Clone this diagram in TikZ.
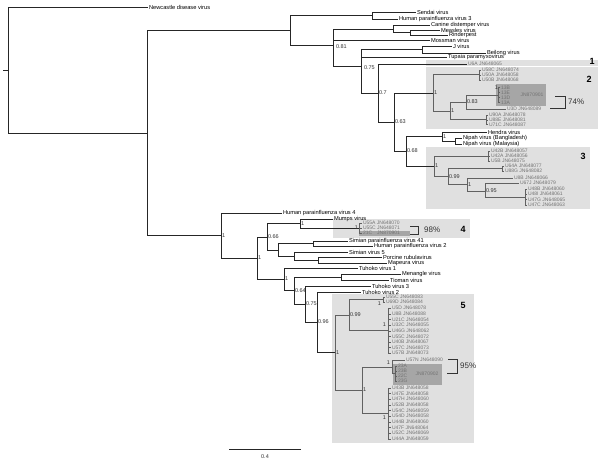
\documentclass[tikz,border=0pt]{standalone}
\usepackage{fontspec}
\setmainfont{Liberation Sans}
\begin{document}
\begin{tikzpicture}[x=1pt,y=-1pt,
  br/.style={draw=black!85,line width=0.8pt},
  ib/.style={draw=black!62,line width=0.7pt},
  leaf/.style={anchor=west,inner sep=0.8pt,font=\fontsize{5.7}{6}\selectfont},
  gleaf/.style={anchor=west,inner sep=0.8pt,text=black!55,font=\fontsize{5}{5.5}\selectfont},
  bs/.style={anchor=west,inner sep=0.8pt,text=black!80,font=\fontsize{5.5}{6}\selectfont},
  bsl/.style={anchor=east,inner sep=0.8pt,text=black!80,font=\fontsize{5.5}{6}\selectfont},
  boxfill/.style={fill=black!12,draw=none},
  darkfill/.style={fill=black!35,draw=none},
  boxnum/.style={font=\fontsize{9}{9}\selectfont\bfseries,inner sep=0pt},
  pct/.style={font=\fontsize{8}{8}\selectfont,inner sep=0pt,text=black!80},
  brk/.style={draw=black!80,line width=0.8pt}
]
\useasboundingbox (0,0) rectangle (600,460);
% ---- background boxes
\path[boxfill] (426,60) rectangle (598,66);
\path[boxfill] (426,67) rectangle (598,129);
\path[boxfill] (426,147) rectangle (590,209);
\path[boxfill] (333,219) rectangle (470,238);
\path[boxfill] (332,294) rectangle (474,443);
\path[darkfill] (496,84) rectangle (546,106);
\path[darkfill] (359,231) rectangle (410,236);
\path[darkfill] (393,364) rectangle (442,385);
\node[boxnum] (b1) at (592,61.5) {1};
\node[boxnum] (b2) at (589,79) {2};
\node[boxnum] (b3) at (583,156) {3};
\node[boxnum] (b4) at (463,229) {4};
\node[boxnum] (b5) at (463,305) {5};

% ---- root
\coordinate (rt) at (3,70);
\coordinate (r) at (8,70);
\draw[br] (rt) -- (r);
\node[leaf] (ndv) at (148,7) {Newcastle disease virus};
\coordinate (n1) at (147,133);
\draw[br] (r) |- (ndv.west);
\draw[br] (r) |- (n1);

% ---- upper clade
\coordinate (nA) at (290,30);
\draw[br] (n1) |- (nA);
\coordinate (nR) at (372,15);
\draw[br] (nA) |- (nR);
\node[leaf] (sen) at (416,12) {Sendai virus};
\node[leaf] (hp3) at (398,19) {Human parainfluenza virus 3};
\draw[br] (nR) |- (sen.west);
\draw[br] (nR) |- (hp3.west);

\coordinate (nC) at (333,45);
\draw[br] (nA) |- (nC);
\node[bs] (l081) at (335,46.5) {0.81};
\coordinate (nMo) at (393,29);
\draw[br] (nC) |- (nMo);
\node[leaf] (cdv) at (430,25) {Canine distemper virus};
\coordinate (nMR) at (410,32.5);
\node[leaf] (mea) at (440,30) {Measles virus};
\node[leaf] (rin) at (448,35) {Rinderpest};
\draw[br] (nMo) |- (cdv.west);
\draw[br] (nMo) |- (nMR);
\draw[br] (nMR) |- (mea.west);
\draw[br] (nMR) |- (rin.west);
\node[leaf] (mos) at (430,40.5) {Mossman virus};
\draw[br] (nC) |- (mos.west);

\coordinate (nD) at (361,66.5);
\draw[br] (nC) |- (nD);
\node[bs] (l075a) at (363,68) {0.75};
\coordinate (nJB) at (422,49.5);
\draw[br] (nD) |- (nJB);
\node[leaf] (jv) at (452,46) {J virus};
\node[leaf] (bei) at (486,53) {Beilong virus};
\draw[br] (nJB) |- (jv.west);
\draw[br] (nJB) |- (bei.west);
\node[leaf] (tup) at (447,57.5) {Tupaia paramyxovirus};
\draw[br] (nD) |- (tup.west);

\coordinate (nE) at (378,93);
\draw[br] (nD) |- (nE);
\node[bs] (l07) at (nE) {0.7};
\node[gleaf] (u6a) at (467,64) {U6A JN648065};
\draw[br] (nE) |- (u6a.west);
\coordinate (nF) at (394,122);
\draw[br] (nE) |- (nF);
\node[bs] (l063) at (nF) {0.63};

% box 2
\coordinate (nG) at (433,93);
\draw[br] (nF) |- (nG);
\node[bs] (lG) at (nG) {1};
\coordinate (nU58) at (479,74.5);
\draw[ib] (nG) |- (nU58);
\node[gleaf] (u58c) at (481,70) {U58C JN648074};
\node[gleaf] (u50a) at (481,75) {U50A JN648058};
\node[gleaf] (u50b) at (481,80) {U50B JN648068};
\foreach \n in {u58c,u50a,u50b} \draw[ib] (nU58) |- (\n.west);
\coordinate (nH) at (450,111);
\draw[ib] (nG) |- (nH);
\node[bs] (lH) at (nH) {1};
\coordinate (nI) at (466,102);
\draw[ib] (nH) |- (nI);
\node[bs] (lI) at (nI) {0.83};
\coordinate (n13) at (498,95);
\draw[ib] (nI) |- (n13);
\node[bsl] (l13) at (499,88) {1};
\node[gleaf] (t13b) at (500,87.5) {13B};
\node[gleaf] (t13e) at (500,92.5) {13E};
\node[gleaf] (t13d) at (500,97.5) {13D};
\node[gleaf] (t13a) at (500,102.5) {13A};
\foreach \n in {t13b,t13e,t13d,t13a} \draw[ib] (n13) |- (\n.west);
\node[gleaf,anchor=center] (jn1) at (532,95) {JN870901};
\node[gleaf] (u3d) at (506,109) {U3D JN648089};
\draw[ib] (nI) |- (u3d.west);
\coordinate (nU90) at (486,119.5);
\draw[ib] (nH) |- (nU90);
\node[gleaf] (u90a) at (488,115) {U90A JN648078};
\node[gleaf] (u88e) at (488,120) {U88E JN648081};
\node[gleaf] (u71c) at (488,124.5) {U71C JN648087};
\foreach \n in {u90a,u88e,u71c} \draw[ib] (nU90) |- (\n.west);
\coordinate (k1a) at (555,96);
\coordinate (k1b) at (565,96);
\coordinate (k1c) at (565,108);
\coordinate (k1d) at (550,108);
\draw[brk] (k1a) -- (k1b) -- (k1c) -- (k1d);
\node[pct,anchor=west] (p74) at (568,102) {74\%};

% henipa + box 3
\coordinate (nJ) at (406,151);
\draw[br] (nF) |- (nJ);
\node[bs] (l068) at (nJ) {0.68};
\coordinate (nHe) at (442,136.5);
\draw[br] (nJ) |- (nHe);
\node[bs] (lHe) at (nHe) {1};
\node[leaf] (hen) at (487,132) {Hendra virus};
\coordinate (nNi) at (455,141);
\node[leaf] (nib) at (462,138) {Nipah virus (Bangladesh)};
\node[leaf] (nim) at (462,144) {Nipah virus (Malaysia)};
\draw[br] (nHe) |- (hen.west);
\draw[br] (nHe) |- (nNi);
\draw[br] (nNi) |- (nib.west);
\draw[br] (nNi) |- (nim.west);

\coordinate (nK) at (434,166);
\draw[br] (nJ) |- (nK);
\node[bs] (lK) at (nK) {1};
\coordinate (nU42) at (488,156);
\draw[ib] (nK) |- (nU42);
\node[gleaf] (u42b) at (490,151) {U42B JN648057};
\node[gleaf] (u42a) at (490,156) {U42A JN648056};
\node[gleaf] (u5b) at (490,161) {U5B JN648075};
\foreach \n in {u42b,u42a,u5b} \draw[ib] (nU42) |- (\n.west);
\coordinate (nL) at (448,176.5);
\draw[ib] (nK) |- (nL);
\node[bs] (lL) at (nL) {0.99};
\coordinate (nU64) at (502,168.5);
\draw[ib] (nL) |- (nU64);
\node[gleaf] (u64a) at (504,166) {U64A JN648077};
\node[gleaf] (u88g) at (504,171) {U88G JN648082};
\foreach \n in {u64a,u88g} \draw[ib] (nU64) |- (\n.west);
\coordinate (nM) at (467,184.5);
\draw[ib] (nL) |- (nM);
\node[bs] (lM) at (nM) {1};
\node[gleaf] (u8b) at (513,178) {U8B JN648066};
\draw[ib] (nM) |- (u8b.west);
\coordinate (nN) at (485,191);
\draw[ib] (nM) |- (nN);
\node[bs] (lN) at (nN) {0.95};
\node[gleaf] (u67j) at (519,183) {U67J JN648079};
\draw[ib] (nN) |- (u67j.west);
\coordinate (nO) at (525,197);
\draw[ib] (nN) |- (nO);
\node[gleaf] (u48b) at (527,189) {U48B JN648060};
\node[gleaf] (u48i) at (527,194) {U48I JN648061};
\node[gleaf] (u47g) at (527,199.5) {U47G JN648065};
\node[gleaf] (u47c) at (527,205) {U47C JN648063};
\foreach \n in {u48b,u48i,u47g,u47c} \draw[ib] (nO) |- (\n.west);

% ---- lower clade
\coordinate (nP) at (221,235.5);
\draw[br] (n1) |- (nP);
\node[bs] (lP) at (nP) {1};
\node[leaf] (hp4) at (282,213) {Human parainfluenza virus 4};
\draw[br] (nP) |- (hp4.west);
\coordinate (nQ) at (257,258);
\draw[br] (nP) |- (nQ);
\node[bs] (lQ) at (nQ) {1};
\coordinate (n066) at (267,237);
\draw[br] (nQ) |- (n066);
\node[bs] (l066) at (n066) {0.66};
\coordinate (nMu) at (300,223.5);
\draw[br] (n066) |- (nMu);
\node[bs] (lMu) at (nMu) {1};
\node[leaf] (mum) at (333,219) {Mumps virus};
\draw[br] (nMu) |- (mum.west);
\coordinate (nB4) at (359,228);
\draw[br] (nMu) |- (nB4);
\node[bsl] (lB4) at (nB4) {1};
\node[gleaf] (u55a) at (362,223) {U55A JN648070};
\node[gleaf] (u55c) at (362,228) {U55C JN648071};
\node[gleaf] (c21) at (362,233) {21C\quad JN870901};
\foreach \n in {u55a,u55c,c21} \draw[ib] (nB4) |- (\n.west);
\coordinate (k2a) at (410,226);
\coordinate (k2b) at (418,226);
\coordinate (k2c) at (418,234);
\coordinate (k2d) at (410,234);
\draw[brk] (k2a) -- (k2b) -- (k2c) -- (k2d);
\node[pct,anchor=west] (p98) at (424,230) {98\%};

\coordinate (nSV) at (278,250);
\draw[br] (n066) |- (nSV);
\coordinate (nSH) at (313,243.5);
\draw[br] (nSV) |- (nSH);
\node[leaf] (sv41) at (348,241) {Simian parainfluenza virus 41};
\node[leaf] (hp2) at (373,246) {Human parainfluenza virus 2};
\draw[br] (nSH) |- (sv41.west);
\draw[br] (nSH) |- (hp2.west);
\coordinate (nSP) at (294,256);
\draw[br] (nSV) |- (nSP);
\node[leaf] (sv5) at (348,252) {Simian virus 5};
\draw[br] (nSP) |- (sv5.west);
\coordinate (nPM) at (318,260);
\draw[br] (nSP) |- (nPM);
\node[leaf] (porv) at (382,257) {Porcine rubulavirus};
\node[leaf] (map) at (387,263) {Mapeura virus};
\draw[br] (nPM) |- (porv.west);
\draw[br] (nPM) |- (map.west);

\coordinate (nT) at (284,279);
\draw[br] (nQ) |- (nT);
\node[bs] (lT) at (nT) {1};
\node[leaf] (tu1) at (358,268) {Tuhoko virus 1};
\draw[br] (nT) |- (tu1.west);
\coordinate (n064) at (294,290.5);
\draw[br] (nT) |- (n064);
\node[bs] (l064) at (n064) {0.64};
\coordinate (nMT) at (341,277);
\draw[br] (n064) |- (nMT);
\node[leaf] (men) at (401,274) {Menangle virus};
\node[leaf] (tio) at (389,280) {Tioman virus};
\draw[br] (nMT) |- (men.west);
\draw[br] (nMT) |- (tio.west);
\coordinate (n075) at (305,304);
\draw[br] (n064) |- (n075);
\node[bs] (l075b) at (n075) {0.75};
\node[leaf] (tu3) at (371,286) {Tuhoko virus 3};
\draw[br] (n075) |- (tu3.west);
\coordinate (n096) at (317,322);
\draw[br] (n075) |- (n096);
\node[bs] (l096) at (n096) {0.96};
\node[leaf] (tu2) at (361,292) {Tuhoko virus 2};
\draw[br] (n096) |- (tu2.west);

% box 5
\coordinate (n5) at (335,352.5);
\draw[br] (n096) |- (n5);
\node[bs] (l5) at (n5) {1};
\coordinate (n099) at (349,315);
\draw[ib] (n5) |- (n099);
\node[bs] (l099) at (n099) {0.99};
\coordinate (nU55) at (383,299.5);
\draw[ib] (n099) |- (nU55);
\node[bsl] (lU55) at (382,304) {1};
\node[gleaf] (u55cb) at (385,297) {U55C JN648083};
\node[gleaf] (u69d) at (385,302) {U69D JN648084};
\foreach \n in {u55cb,u69d} \draw[ib] (nU55) |- (\n.west);
\coordinate (nC1) at (388,330.5);
\draw[ib] (n099) |- (nC1);
\node[bsl] (lC1) at (387,325) {1};
\foreach \t/\yy [count=\i] in {U5D JN648078/308,U8B JN648088/314,U21C JN648054/319.5,U32C JN648055/325,U46G JN648062/331,U55C JN648072/336.5,U40B JN648067/342,U57C JN648073/347.5,U57B JN648073/353} {
  \node[gleaf] (ca\i) at (391,\yy) {\t};
  \draw[ib] (nC1) |- (ca\i.west);
}
\coordinate (nV) at (362,390);
\draw[ib] (n5) |- (nV);
\node[bs] (lV) at (nV) {1};
\coordinate (nW) at (392,367);
\draw[ib] (nV) |- (nW);
\node[bsl] (lW) at (391,363) {1};
\node[gleaf] (u57n) at (405,360) {U57N JN648090};
\draw[ib] (nW) |- (u57n.west);
\coordinate (nW2) at (395,373.5);
\draw[ib] (nW) |- (nW2);
\foreach \t/\yy [count=\i] in {23A/366,23B/371,22C/376,23G/381} {
  \node[gleaf] (cw\i) at (397,\yy) {\t};
  \draw[ib] (nW2) |- (cw\i.west);
}
\node[gleaf,anchor=center] (jn2) at (427,374) {JN870902};
\coordinate (k3a) at (448,359);
\coordinate (k3b) at (457,359);
\coordinate (k3c) at (457,373);
\coordinate (k3d) at (447,373);
\draw[brk] (k3a) -- (k3b) -- (k3c) -- (k3d);
\node[pct,anchor=west] (p95) at (460,366) {95\%};
\coordinate (nC2) at (388,413.5);
\draw[ib] (nV) |- (nC2);
\node[bsl] (lC2) at (387,418) {1};
\foreach \t/\yy [count=\i] in {U43B JN648058/388,U47E JN648058/393.5,U47H JN648060/399,U52B JN648058/405,U54C JN648059/410.5,U54D JN648058/416,U44B JN648060/422,U47F JN648064/427.5,U52C JN648069/433,U44A JN648059/439} {
  \node[gleaf] (cb\i) at (391,\yy) {\t};
  \draw[ib] (nC2) |- (cb\i.west);
}

% ---- scale bar
\coordinate (sb1) at (229,449);
\coordinate (sb2) at (301,449);
\draw[br] (sb1) -- (sb2);
\node[bs,anchor=center] (sbl) at (265,457) {0.4};
\end{tikzpicture}
\end{document}
